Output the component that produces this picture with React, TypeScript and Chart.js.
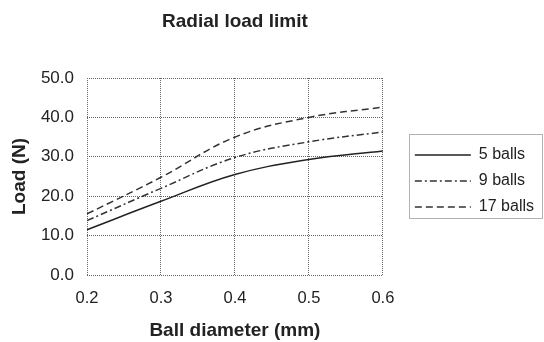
import React, { useEffect, useRef } from "react";
import { Chart, registerables } from "chart.js";

Chart.register(...registerables);

const diameters = [0.2, 0.3, 0.4, 0.5, 0.6];
const balls5 = [11.5, 18.7, 25.5, 29.3, 31.5];
const balls9 = [13.8, 22.0, 29.8, 33.8, 36.3];
const balls17 = [15.5, 24.8, 35.0, 40.0, 42.6];
const seriesNames = ["5 balls", "9 balls", "17 balls"];
const yTicks = [0, 10, 20, 30, 40, 50];
const xTicks = [0.2, 0.3, 0.4, 0.5, 0.6];

const FONT = "'Liberation Sans', Arial, Helvetica, sans-serif";
const INK = "#222";

const legendBorder = {
  id: "legendBorder",
  afterDraw(chart: any) {
    const lg = chart.legend;
    if (!lg || !lg.legendHitBoxes || !lg.legendHitBoxes.length) return;
    const hb = lg.legendHitBoxes;
    const first = hb[0];
    const last = hb[hb.length - 1];
    let maxRight = 0;
    hb.forEach((h: any) => { maxRight = Math.max(maxRight, h.left + h.width); });
    const left = first.left - 6;
    const right = Math.min(maxRight + 8, chart.width - 1);
    const top = first.top - 13;
    const bottom = last.top + last.height + 3;
    const ctx = chart.ctx;
    ctx.save();
    ctx.strokeStyle = "#666";
    ctx.lineWidth = 1;
    ctx.setLineDash([1, 1]);
    ctx.strokeRect(Math.round(left) + 0.5, Math.round(top) + 0.5, Math.round(right - left), Math.round(bottom - top));
    ctx.restore();
  },
};

const pts = (ys: number[]) => diameters.map((x, i) => ({ x, y: ys[i] }));

export default function App() {
  const ref = useRef<HTMLCanvasElement | null>(null);
  useEffect(() => {
    if (!ref.current) return;
    const baseGen = (Chart as any).defaults.plugins.legend.labels.generateLabels;
    const chart = new Chart(ref.current, {
      type: "line",
      data: {
        datasets: [
          { label: seriesNames[0], data: pts(balls5), borderColor: INK, backgroundColor: INK, borderWidth: 1.5, pointRadius: 0, tension: 0.4 },
          { label: seriesNames[1], data: pts(balls9), borderColor: "#333", backgroundColor: "#333", borderWidth: 1.5, borderDash: [7, 3, 2, 3], pointRadius: 0, tension: 0.4 },
          { label: seriesNames[2], data: pts(balls17), borderColor: "#333", backgroundColor: "#333", borderWidth: 1.5, borderDash: [7, 4], pointRadius: 0, tension: 0.4 },
        ],
      },
      options: {
        responsive: false,
        animation: false,
        layout: { padding: 0 },
        plugins: {
          title: {
            display: true,
            text: "Radial load limit",
            fullSize: false,
            color: INK,
            font: { family: FONT, size: 19, weight: "bold", lineHeight: 1.2 },
            padding: { top: 10, bottom: 45.2 },
          },
          legend: {
            display: true,
            position: "right",
            align: "center",
            fullSize: false,
            maxWidth: 200,
            title: { display: true, text: "", padding: 0, font: { size: 7.5, lineHeight: 1.2 } },
            labels: {
              usePointStyle: true,
              pointStyle: "line",
              pointStyleWidth: 56,
              boxHeight: 16,
              padding: 10,
              color: INK,
              font: { family: FONT, size: 16 },
              generateLabels: (c: any) =>
                baseGen(c).map((item: any) => {
                  const ds = c.data.datasets[item.datasetIndex];
                  return { ...item, lineDash: ds.borderDash || [], lineWidth: 1.5, strokeStyle: ds.borderColor };
                }),
            },
          },
          tooltip: { enabled: false },
        },
        scales: {
          x: {
            type: "linear",
            min: xTicks[0],
            max: xTicks[xTicks.length - 1],
            afterBuildTicks: (s: any) => { s.ticks = xTicks.map((v) => ({ value: v })); },
            afterFit: (s: any) => { s.height = 67; },
            ticks: { padding: 14, color: INK, font: { family: FONT, size: 16.5 }, callback: (v: any) => Number(v).toFixed(1), maxRotation: 0 },
            grid: { color: "#666", lineWidth: 1, drawTicks: false },
            border: { display: false, dash: [1, 1] },
            title: { display: true, text: "Ball diameter (mm)", color: INK, font: { family: FONT, size: 19, weight: "bold", lineHeight: 1.2 }, padding: { top: 0, bottom: 0 } },
          },
          y: {
            type: "linear",
            min: yTicks[0],
            max: yTicks[yTicks.length - 1],
            afterBuildTicks: (s: any) => { s.ticks = yTicks.map((v) => ({ value: v })); },
            afterFit: (s: any) => { s.width = 87; },
            ticks: { padding: 13, color: INK, font: { family: FONT, size: 17 }, callback: (v: any) => Number(v).toFixed(1) },
            grid: { color: "#666", lineWidth: 1, drawTicks: false },
            border: { display: false, dash: [1, 1] },
            title: { display: true, text: "Load (N)", color: INK, font: { family: FONT, size: 19, weight: "bold", lineHeight: 1.2 }, padding: { top: 8, bottom: 0 } },
          },
          gap: {
            type: "linear",
            position: "right",
            display: true,
            afterFit: (s: any) => { s.width = 22; },
            ticks: { display: false },
            grid: { display: false, drawOnChartArea: false, drawTicks: false },
            border: { display: false },
          },
        },
      },
      plugins: [legendBorder],
    } as any);
    return () => chart.destroy();
  }, []);
  return (
    <div style={{ position: "fixed", left: 0, top: 0, width: 544, height: 342, background: "#fff" }}>
      <canvas ref={ref} width={544} height={342} style={{ display: "block", width: 544, height: 342 }} />
    </div>
  );
}
